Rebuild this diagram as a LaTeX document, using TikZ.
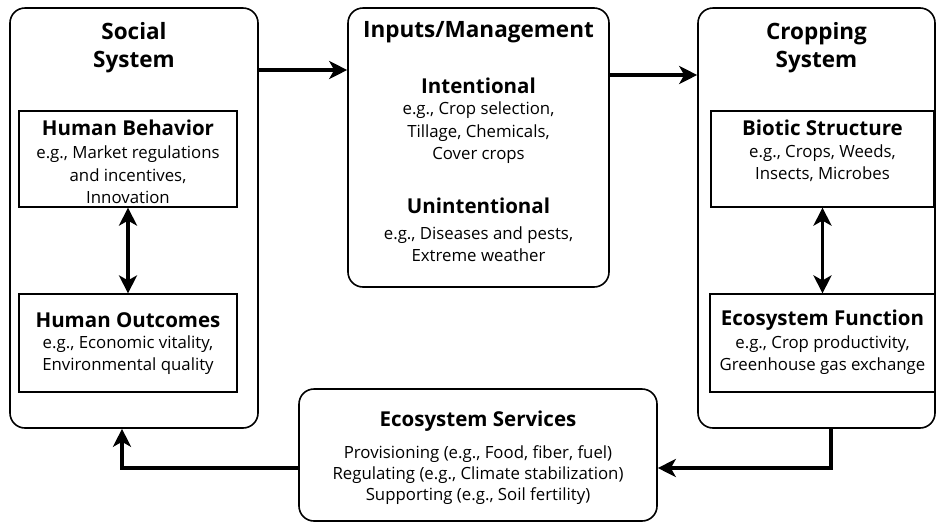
\documentclass[tikz,border=0pt]{standalone}
\usepackage{fontspec}
\setmainfont{Open Sans}
\usetikzlibrary{arrows.meta}

\tikzset{
  bigbox/.style={draw, line width=1.6pt, rounded corners=15pt, inner sep=0pt},
  smallbox/.style={draw, line width=1.2pt, inner sep=0pt},
  title/.style={align=center, inner sep=0pt, font=\fontsize{22.5}{28}\selectfont\bfseries},
  head/.style={align=center, inner sep=0pt, font=\fontsize{20.5}{23}\selectfont\bfseries},
  body/.style={align=center, inner sep=0pt, font=\fontsize{16.8}{22.5}\selectfont},
  flow/.style={line width=3.5pt, -{Stealth[length=18pt,width=18pt,inset=5pt]}},
  flowboth/.style={line width=3.5pt,
    {Stealth[length=18pt,width=18pt,inset=5pt]}-{Stealth[length=18pt,width=18pt,inset=5pt]}},
}

\begin{document}
\begin{tikzpicture}  % ------ Agroecosystem -----------
      [x=1pt,y=-1pt]
    \useasboundingbox (0,0) rectangle (937,523);

% ------ Social system -----------
    \node[bigbox, minimum width=248pt, minimum height=420pt] (social) at (134,218) {};
    \node[title] (social-t) at (134,48) {Social\\System};
    \node[smallbox, minimum width=218pt, minimum height=96pt] (behav) at (128,159) {};
    \node[head] (behav-h) at (128,128) {Human Behavior};
    \node[body] (behav-b) at (128,175) {e.g., Market regulations\\and incentives,\\Innovation};
    \node[smallbox, minimum width=218pt, minimum height=98pt] (outc) at (128,343) {};
    \node[head] (outc-h) at (128,320) {Human Outcomes};
    \node[body] (outc-b) at (128,355) {e.g., Economic vitality,\\Environmental quality};

% ------ Inputs -----------
    \node[bigbox, minimum width=261pt, minimum height=279pt] (inputs) at (478.5,147.5) {};
    \node[title] (inputs-t) at (478.5,32) {Inputs/Management};
    \node[head] (int-h) at (478.5,86) {Intentional};
    \node[body] (int-b) at (478.5,133) {e.g., Crop selection,\\Tillage, Chemicals,\\Cover crops};
    \node[head] (unint-h) at (478.5,206) {Unintentional};
    \node[body] (unint-b) at (478.5,244) {e.g., Diseases and pests,\\Extreme weather};

% ------ Cropping system -----------
    \node[bigbox, minimum width=237pt, minimum height=420pt] (crop) at (816.5,218) {};
    \node[title] (crop-t) at (816.5,48) {Cropping\\System};
    \node[smallbox, minimum width=223pt, minimum height=96pt] (biot) at (822.5,159) {};
    \node[head] (biot-h) at (822.5,128) {Biotic Structure};
    \node[body] (biot-b) at (822.5,163) {e.g., Crops, Weeds,\\Insects, Microbes};
    \node[smallbox, minimum width=225pt, minimum height=98pt] (func) at (822.5,343) {};
    \node[head] (func-h) at (822.5,320) {Ecosystem Function};
    \node[body] (func-b) at (822.5,355) {e.g., Crop productivity,\\Greenhouse gas exchange};

% ------ Services -----------
    \node[bigbox, minimum width=358pt, minimum height=132pt] (serv) at (478,455) {};
    \node[head] (serv-h) at (478,421) {Ecosystem Services};
    \node[body, font=\fontsize{16.8}{21}\selectfont] (serv-b) at (478,475)
      {Provisioning (e.g., Food, fiber, fuel)\\Regulating (e.g., Climate stabilization)\\Supporting (e.g., Soil fertility)};

% ------ Flows -----------
    \coordinate (r1) at (0,70);
    \coordinate (r2) at (0,75);
    \coordinate (r3) at (0,468);
    \coordinate (k1) at (122,0);
    \coordinate (k2) at (831,0);

    \draw[flow] (social.east |- r1) -- (inputs.west |- r1);
    \draw[flow] (inputs.east |- r2) -- (crop.west |- r2);
    \draw[flowboth] (behav.south) -- (outc.north);
    \draw[flowboth] (biot.south -| biot-h) -- (func.north -| biot-h);
    \draw[flow] (crop.south -| k2) |- (serv.east |- r3);
    \draw[flow] (serv.west |- r3) -| (social.south -| k1);
\end{tikzpicture}
\end{document}
